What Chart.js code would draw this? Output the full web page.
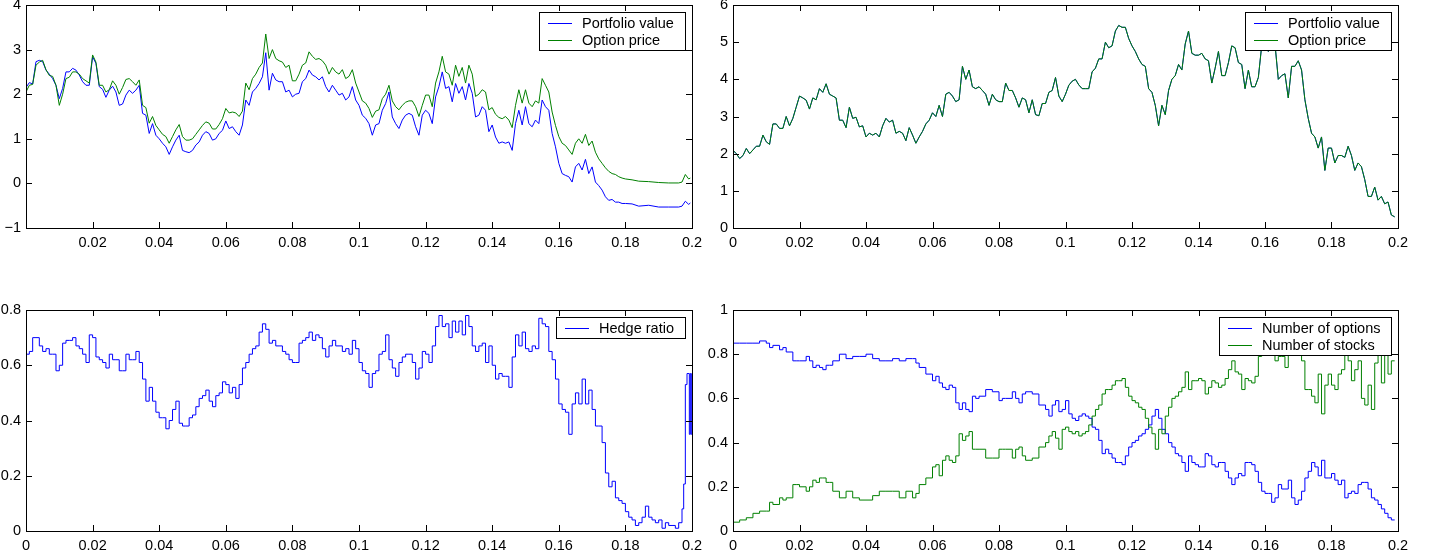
<!DOCTYPE html>
<html>
<head>
<meta charset="utf-8">
<script src="https://cdn.jsdelivr.net/npm/chart.js@4"></script>
<style>
body { margin: 0; background: #fff; width: 1441px; height: 559px; overflow: hidden; position: relative; }
canvas { position: absolute; }
</style>
</head>
<body>
<canvas id="tl" width="720" height="262" style="left:0;top:-12px"></canvas>
<canvas id="tr" width="741" height="262" style="left:700px;top:-12px"></canvas>
<canvas id="bl" width="720" height="281" style="left:0;top:278px"></canvas>
<canvas id="br" width="741" height="281" style="left:700px;top:278px"></canvas>
<script>
// all times are in 1/1000 of the x unit

// top left: portfolio value vs option price
var tlTime = [
  0, 1, 2, 3, 4, 5, 6, 7, 8, 9, 10, 11, 12, 13, 14, 15, 16, 17, 18, 19,
  20, 21, 22, 23, 24, 25, 26, 27, 28, 29, 30, 31, 32, 33, 34, 35, 36, 37, 38, 39,
  40, 41, 42, 43, 44, 45, 46, 47, 48, 49, 50, 51, 52, 53, 54, 55, 56, 57, 58, 59,
  60, 61, 62, 63, 64, 65, 66, 67, 68, 69, 70, 71, 72, 73, 74, 75, 76, 77, 78, 79,
  80, 81, 82, 83, 84, 85, 86, 87, 88, 89, 90, 91, 92, 93, 94, 95, 96, 97, 98, 99,
  100, 101, 102, 103, 104, 105, 106, 107, 108, 109, 110, 111, 112, 113, 114, 115, 116, 117, 118, 119,
  120, 121, 122, 123, 124, 125, 126, 127, 128, 129, 130, 131, 132, 133, 134, 135, 136, 137, 138, 139,
  140, 141, 142, 143, 144, 145, 146, 147, 148, 149, 150, 151, 152, 153, 154, 155, 156, 157, 158, 159,
  160, 161, 162, 163, 164, 165, 166, 167, 168, 169, 170, 171, 172, 173, 174, 175, 176, 177, 178, 179,
  180, 182, 184, 187, 190, 193, 196, 197, 198, 199, 199.5
];
var tlPortfolio = [
  2.15, 2.26, 2.23, 2.73, 2.76, 2.73, 2.54, 2.45, 2.35, 2.2, 1.9, 2.13, 2.5, 2.5, 2.58, 2.54, 2.43, 2.28, 2.2, 2.2,
  2.84, 2.69, 2.17, 2.11, 1.93, 2.09, 2.18, 2.05, 1.75, 1.78, 1.98, 2.09, 2.02, 2.09, 2.2, 1.57, 1.53, 1.12, 1.34, 1.08,
  1.0, 0.9, 0.82, 0.65, 0.82, 0.97, 1.08, 0.74, 0.71, 0.69, 0.74, 0.86, 0.93, 1.08, 1.16, 1.12, 0.97, 1.0, 1.12, 1.19,
  1.4, 1.23, 1.27, 1.16, 1.08, 1.31, 1.87, 1.75, 2.05, 2.13, 2.24, 2.39, 2.93, 2.09, 2.47, 2.32, 2.28, 2.28, 2.05, 2.09,
  1.94, 2.0, 2.02, 2.28, 2.35, 2.54, 2.43, 2.39, 2.32, 2.39, 2.17, 2.05, 2.2, 2.09, 1.98, 2.02, 1.87, 1.94, 2.17, 1.87,
  1.75, 1.53, 1.46, 1.34, 1.08, 1.31, 1.34, 1.64, 1.79, 2.05, 1.49, 1.34, 1.23, 1.42, 1.53, 1.57, 1.53, 1.27, 1.08, 1.53,
  1.64, 1.57, 1.34, 1.94, 2.17, 2.5, 2.13, 2.17, 1.83, 2.24, 2.02, 2.17, 1.87, 2.24, 2.02, 1.49, 1.53, 1.72, 1.64, 1.16,
  1.31, 1.04, 0.9, 0.93, 0.9, 0.93, 0.74, 1.34, 1.64, 1.31, 1.72, 1.34, 1.27, 1.42, 1.34, 1.87, 1.72, 1.64, 1.12, 0.82,
  0.45, 0.22, 0.18, 0.15, 0.03, 0.37, 0.45, 0.3, 0.54, 0.22, 0.37, 0.03, -0.05, -0.15, -0.3, -0.38, -0.36, -0.42, -0.42, -0.45,
  -0.45, -0.46, -0.51, -0.49, -0.53, -0.53, -0.53, -0.51, -0.4, -0.47, -0.44
];
var tlOption = [
  2.05, 2.2, 2.22, 2.65, 2.72, 2.76, 2.55, 2.42, 2.4, 2.2, 1.75, 2.0, 2.35, 2.38, 2.5, 2.5, 2.45, 2.35, 2.3, 2.25,
  2.88, 2.72, 2.2, 2.2, 2.05, 2.1, 2.3, 2.2, 2.0, 2.15, 2.33, 2.35, 2.28, 2.2, 2.32, 1.75, 1.7, 1.35, 1.5, 1.3,
  1.2, 1.1, 1.05, 0.9, 1.05, 1.2, 1.32, 1.05, 0.97, 0.97, 1.0, 1.1, 1.2, 1.3, 1.38, 1.35, 1.22, 1.22, 1.32, 1.45,
  1.68, 1.58, 1.6, 1.58, 1.5, 1.62, 2.25, 2.1, 2.35, 2.45, 2.6, 2.7, 3.35, 2.8, 3.0, 2.8, 2.75, 2.72, 2.6, 2.65,
  2.3, 2.3, 2.45, 2.65, 2.7, 2.95, 2.85, 2.78, 2.8, 2.75, 2.65, 2.45, 2.6, 2.5, 2.45, 2.55, 2.35, 2.4, 2.55, 2.25,
  2.05, 1.85, 1.8, 1.68, 1.48, 1.62, 1.65, 1.9, 2.0, 2.2, 1.85, 1.72, 1.65, 1.75, 1.82, 1.85, 1.85, 1.72, 1.5, 1.75,
  1.98, 1.98, 1.72, 2.25, 2.5, 2.85, 2.5, 2.45, 2.2, 2.65, 2.4, 2.6, 2.25, 2.65, 2.45, 1.95, 2.0, 2.1, 2.05, 1.65,
  1.7, 1.55, 1.48, 1.45, 1.5, 1.42, 1.25, 1.75, 2.1, 1.8, 2.1, 1.8, 1.72, 1.85, 1.8, 2.35, 2.2, 2.05, 1.6, 1.3,
  1.05, 0.9, 0.85, 0.75, 0.65, 0.9, 1.0, 0.9, 1.1, 0.85, 0.95, 0.7, 0.55, 0.45, 0.35, 0.27, 0.22, 0.2, 0.15, 0.12,
  0.1, 0.08, 0.05, 0.04, 0.02, 0.01, 0.01, 0.03, 0.2, 0.1, 0.12
];

// top right: portfolio value vs option price (the two curves coincide)
var trTime = [
  0, 1, 2, 3, 4, 5, 6, 7, 8, 9, 10, 11, 12, 13, 14, 15, 16, 17, 18, 19,
  20, 21, 22, 23, 24, 25, 26, 27, 28, 29, 30, 31, 32, 33, 34, 35, 36, 37, 38, 39,
  40, 41, 42, 43, 44, 45, 46, 47, 48, 49, 50, 51, 52, 53, 54, 55, 56, 57, 58, 59,
  60, 61, 62, 63, 64, 65, 66, 67, 68, 69, 70, 71, 72, 73, 74, 75, 76, 77, 78, 79,
  80, 81, 82, 83, 84, 85, 86, 87, 88, 89, 90, 91, 92, 93, 94, 95, 96, 97, 98, 99,
  100, 101, 102, 103, 104, 105, 106, 107, 108, 109, 110, 111, 112, 113, 114, 115, 116, 117, 118, 119,
  120, 121, 122, 123, 124, 125, 126, 127, 128, 129, 130, 131, 132, 133, 134, 135, 136, 137, 138, 139,
  140, 141, 142, 143, 144, 145, 146, 147, 148, 149, 150, 151, 152, 153, 154, 155, 156, 157, 158, 159,
  160, 161, 162, 163, 164, 165, 166, 167, 168, 169, 170, 171, 172, 173, 174, 175, 176, 177, 178, 179,
  180, 181, 182, 183, 184, 185, 186, 187, 188, 189, 190, 191, 192, 193, 194, 195, 196, 197, 198, 199
];
var trPortfolio = [
  2.09, 2.0, 1.87, 1.95, 2.14, 2.0, 2.1, 2.2, 2.2, 2.5, 2.32, 2.25, 2.8, 2.8, 2.68, 2.68, 3.0, 2.75, 2.95, 3.25,
  3.55, 3.5, 3.44, 3.2, 3.5, 3.45, 3.75, 3.65, 3.88, 3.6, 3.55, 3.5, 2.9, 2.9, 2.7, 3.25, 2.95, 2.98, 2.72, 2.75,
  2.45, 2.55, 2.5, 2.55, 2.45, 2.75, 2.95, 2.85, 2.9, 2.55, 2.6, 2.55, 2.35, 2.7, 2.5, 2.28, 2.45, 2.6, 2.8, 2.9,
  3.1, 3.0, 3.3, 3.0, 3.6, 3.65, 3.55, 3.4, 3.45, 4.35, 4.0, 4.25, 3.8, 3.75, 3.8, 3.7, 3.6, 3.3, 3.6, 3.45,
  3.4, 3.4, 3.9, 3.7, 3.7, 3.5, 3.25, 3.5, 3.45, 3.1, 3.45, 3.05, 3.02, 3.35, 3.35, 3.65, 3.7, 4.05, 3.55, 3.4,
  3.6, 3.84, 3.95, 4.0, 3.85, 3.75, 3.75, 3.75, 4.2, 4.3, 4.55, 4.55, 5.0, 4.85, 4.9, 5.3, 5.45, 5.4, 5.4, 5.1,
  4.9, 4.75, 4.55, 4.4, 4.35, 3.75, 3.65, 3.3, 2.75, 3.3, 3.05, 3.7, 4.0, 4.1, 4.4, 4.25, 4.95, 5.3, 4.7, 4.65,
  4.65, 4.7, 4.55, 4.5, 3.9, 4.3, 4.75, 4.1, 4.1, 4.45, 4.9, 4.85, 4.45, 4.4, 3.75, 4.25, 3.8, 3.8, 4.05, 4.9,
  5.0, 4.75, 4.9, 4.95, 4.0, 4.1, 4.15, 3.5, 4.35, 4.35, 4.5, 4.25, 3.45, 2.95, 2.55, 2.45, 2.15, 2.45, 1.55, 2.15,
  2.15, 1.75, 1.95, 1.95, 1.9, 2.2, 1.95, 1.55, 1.75, 1.65, 1.3, 0.85, 0.85, 1.1, 0.75, 0.85, 0.65, 0.7, 0.35, 0.3
];
var trOption = [
  2.09, 2.0, 1.87, 1.95, 2.14, 2.0, 2.1, 2.2, 2.2, 2.5, 2.32, 2.25, 2.8, 2.8, 2.68, 2.68, 3.0, 2.75, 2.95, 3.25,
  3.55, 3.5, 3.44, 3.2, 3.5, 3.45, 3.75, 3.65, 3.88, 3.6, 3.55, 3.5, 2.9, 2.9, 2.7, 3.25, 2.95, 2.98, 2.72, 2.75,
  2.45, 2.55, 2.5, 2.55, 2.45, 2.75, 2.95, 2.85, 2.9, 2.55, 2.6, 2.55, 2.35, 2.7, 2.5, 2.28, 2.45, 2.6, 2.8, 2.9,
  3.1, 3.0, 3.3, 3.0, 3.6, 3.65, 3.55, 3.4, 3.45, 4.35, 4.0, 4.25, 3.8, 3.75, 3.8, 3.7, 3.6, 3.3, 3.6, 3.45,
  3.4, 3.4, 3.9, 3.7, 3.7, 3.5, 3.25, 3.5, 3.45, 3.1, 3.45, 3.05, 3.02, 3.35, 3.35, 3.65, 3.7, 4.05, 3.55, 3.4,
  3.6, 3.84, 3.95, 4.0, 3.85, 3.75, 3.75, 3.75, 4.2, 4.3, 4.55, 4.55, 5.0, 4.85, 4.9, 5.3, 5.45, 5.4, 5.4, 5.1,
  4.9, 4.75, 4.55, 4.4, 4.35, 3.75, 3.65, 3.3, 2.75, 3.3, 3.05, 3.7, 4.0, 4.1, 4.4, 4.25, 4.95, 5.3, 4.7, 4.65,
  4.65, 4.7, 4.55, 4.5, 3.9, 4.3, 4.75, 4.1, 4.1, 4.45, 4.9, 4.85, 4.45, 4.4, 3.75, 4.25, 3.8, 3.8, 4.05, 4.9,
  5.0, 4.75, 4.9, 4.95, 4.0, 4.1, 4.15, 3.5, 4.35, 4.35, 4.5, 4.25, 3.45, 2.95, 2.55, 2.45, 2.15, 2.45, 1.55, 2.15,
  2.15, 1.75, 1.95, 1.95, 1.9, 2.2, 1.95, 1.55, 1.75, 1.65, 1.3, 0.85, 0.85, 1.1, 0.75, 0.85, 0.65, 0.7, 0.35, 0.3
];

// bottom left: hedge ratio
var blTime = [
  0, 1, 2, 3, 4, 5, 6, 7, 8, 9, 10, 11, 12, 13, 14, 15, 16, 17, 18, 19,
  20, 21, 22, 23, 24, 25, 26, 27, 28, 29, 30, 31, 32, 33, 34, 35, 36, 37, 38, 39,
  40, 41, 42, 43, 44, 45, 46, 47, 48, 49, 50, 51, 52, 53, 54, 55, 56, 57, 58, 59,
  60, 61, 62, 63, 64, 65, 66, 67, 68, 69, 70, 71, 72, 73, 74, 75, 76, 77, 78, 79,
  80, 81, 82, 83, 84, 85, 86, 87, 88, 89, 90, 91, 92, 93, 94, 95, 96, 97, 98, 99,
  100, 101, 102, 103, 104, 105, 106, 107, 108, 109, 110, 111, 112, 113, 114, 115, 116, 117, 118, 119,
  120, 121, 122, 123, 124, 125, 126, 127, 128, 129, 130, 131, 132, 133, 134, 135, 136, 137, 138, 139,
  140, 141, 142, 143, 144, 145, 146, 147, 148, 149, 150, 151, 152, 153, 154, 155, 156, 157, 158, 159,
  160, 161, 162, 163, 164, 165, 166, 167, 168, 169, 170, 171, 172, 173, 174, 175, 176, 177, 178, 179,
  180, 181, 182, 183, 184, 185, 186, 187, 188, 189, 190, 191, 192, 193, 194, 195, 196, 197,
  197.5, 198, 198.5, 199.2, 199.5, 199.8, 200
];
var blHedge = [
  0.62, 0.64, 0.65, 0.70, 0.70, 0.67, 0.65, 0.66, 0.64, 0.64, 0.58, 0.60, 0.68, 0.69, 0.69, 0.70, 0.67, 0.66, 0.64, 0.61,
  0.71, 0.70, 0.63, 0.62, 0.61, 0.59, 0.64, 0.62, 0.62, 0.58, 0.58, 0.64, 0.62, 0.62, 0.65, 0.61, 0.55, 0.47, 0.52, 0.47,
  0.43, 0.41, 0.41, 0.37, 0.40, 0.44, 0.47, 0.39, 0.38, 0.38, 0.41, 0.42, 0.45, 0.48, 0.49, 0.51, 0.47, 0.45, 0.49, 0.50,
  0.54, 0.53, 0.50, 0.52, 0.48, 0.53, 0.59, 0.61, 0.64, 0.66, 0.67, 0.72, 0.75, 0.73, 0.68, 0.69, 0.67, 0.67, 0.65, 0.64,
  0.62, 0.61, 0.61, 0.68, 0.69, 0.70, 0.72, 0.69, 0.71, 0.70, 0.66, 0.63, 0.67, 0.69, 0.67, 0.67, 0.65, 0.66, 0.64, 0.69,
  0.66, 0.61, 0.58, 0.57, 0.52, 0.57, 0.58, 0.64, 0.65, 0.71, 0.62, 0.59, 0.56, 0.61, 0.63, 0.64, 0.64, 0.61, 0.55, 0.59,
  0.65, 0.64, 0.61, 0.67, 0.74, 0.78, 0.74, 0.75, 0.70, 0.76, 0.72, 0.76, 0.71, 0.78, 0.74, 0.67, 0.65, 0.67, 0.68, 0.61,
  0.67, 0.60, 0.55, 0.57, 0.56, 0.56, 0.52, 0.63, 0.71, 0.67, 0.72, 0.66, 0.65, 0.67, 0.66, 0.77, 0.75, 0.74, 0.65, 0.62,
  0.55, 0.46, 0.44, 0.43, 0.35, 0.46, 0.50, 0.46, 0.55, 0.46, 0.51, 0.44, 0.38, 0.38, 0.32, 0.21, 0.16, 0.18, 0.12, 0.11,
  0.10, 0.07, 0.05, 0.04, 0.02, 0.03, 0.05, 0.09, 0.05, 0.04, 0.03, 0.04, 0.01, 0.03, 0.02, 0.02, 0.01, 0.03,
  0.08, 0.17, 0.53, 0.57, 0.35, 0.57, 0.35
];

// bottom right: number of options / number of stocks
var brTime = [
  0, 2, 4, 6, 8, 10, 11, 12, 14, 15, 16, 18, 19, 20, 22, 23, 24, 25, 26, 27,
  28, 29, 30, 32, 34, 36, 38, 40, 42, 44, 46, 48, 50, 52, 54, 55, 56, 58, 60, 61,
  62, 63, 64, 65, 66, 67, 68, 69, 70, 71, 72, 73, 74, 76, 78, 80, 81, 82, 84, 85,
  86, 87, 88, 90, 92, 94, 95, 96, 97, 98, 99,
  100, 101, 102, 103, 104, 105, 106, 107, 108, 109, 110, 111, 112, 113, 114, 115, 116, 117, 118, 119,
  120, 121, 122, 123, 124, 125, 126, 127, 128, 129, 130, 131, 132, 133, 134, 135, 136, 137, 138, 139,
  140, 141, 142, 143, 144, 145, 146, 147, 148, 149, 150, 151, 152, 153, 154, 155, 156, 157, 158, 159,
  160, 161, 162, 163, 164, 165, 166, 167, 168, 169, 170, 171, 172, 173, 174, 175, 176, 177, 178, 179,
  180, 181, 182, 183, 184, 185, 186, 187, 188, 189, 190, 191, 192, 193, 194, 195, 196, 197, 198, 199
];
var brOptions = [
  0.86, 0.85, 0.85, 0.85, 0.85, 0.86, 0.85, 0.83, 0.84, 0.82, 0.83, 0.81, 0.77, 0.77, 0.77, 0.79, 0.77, 0.74, 0.75, 0.74,
  0.73, 0.75, 0.75, 0.77, 0.80, 0.78, 0.79, 0.79, 0.80, 0.78, 0.77, 0.77, 0.78, 0.77, 0.78, 0.78, 0.76, 0.74, 0.71, 0.68,
  0.70, 0.67, 0.65, 0.64, 0.66, 0.65, 0.58, 0.55, 0.58, 0.55, 0.54, 0.61, 0.60, 0.61, 0.64, 0.63, 0.59, 0.60, 0.60, 0.63,
  0.60, 0.58, 0.62, 0.63, 0.62, 0.57, 0.55, 0.52, 0.57, 0.59, 0.54,
  0.55, 0.59, 0.53, 0.51, 0.50, 0.52, 0.53, 0.52, 0.51, 0.47, 0.46, 0.41, 0.35, 0.37, 0.35, 0.33, 0.31, 0.31, 0.30, 0.34,
  0.38, 0.40, 0.41, 0.43, 0.44, 0.46, 0.48, 0.52, 0.55, 0.51, 0.46, 0.44, 0.40, 0.38, 0.35, 0.34, 0.31, 0.27, 0.34, 0.31,
  0.30, 0.29, 0.29, 0.35, 0.34, 0.30, 0.29, 0.31, 0.31, 0.27, 0.24, 0.21, 0.24, 0.26, 0.25, 0.31, 0.31, 0.30, 0.27, 0.22,
  0.18, 0.17, 0.17, 0.13, 0.15, 0.21, 0.19, 0.19, 0.23, 0.15, 0.12, 0.14, 0.18, 0.24, 0.27, 0.31, 0.29, 0.25, 0.32, 0.24,
  0.24, 0.26, 0.23, 0.21, 0.23, 0.15, 0.17, 0.18, 0.17, 0.21, 0.22, 0.22, 0.19, 0.15, 0.14, 0.12, 0.10, 0.08, 0.06, 0.05
];
var brStocks = [
  0.05, 0.04, 0.05, 0.06, 0.08, 0.09, 0.09, 0.13, 0.12, 0.15, 0.14, 0.15, 0.21, 0.21, 0.20, 0.18, 0.20, 0.23, 0.22, 0.24,
  0.24, 0.22, 0.22, 0.18, 0.15, 0.18, 0.15, 0.14, 0.14, 0.16, 0.18, 0.18, 0.18, 0.15, 0.18, 0.15, 0.17, 0.21, 0.24, 0.29,
  0.30, 0.25, 0.32, 0.34, 0.32, 0.31, 0.34, 0.44, 0.41, 0.43, 0.45, 0.37, 0.37, 0.37, 0.33, 0.33, 0.37, 0.37, 0.37, 0.33,
  0.37, 0.38, 0.34, 0.32, 0.33, 0.38, 0.40, 0.43, 0.45, 0.42, 0.37,
  0.46, 0.47, 0.45, 0.44, 0.45, 0.43, 0.44, 0.45, 0.48, 0.52, 0.55, 0.57, 0.62, 0.64, 0.64, 0.66, 0.68, 0.68, 0.69, 0.65,
  0.61, 0.59, 0.58, 0.56, 0.55, 0.51, 0.47, 0.44, 0.37, 0.46, 0.44, 0.52, 0.56, 0.60, 0.61, 0.63, 0.65, 0.72, 0.64, 0.68,
  0.68, 0.69, 0.68, 0.62, 0.65, 0.68, 0.67, 0.65, 0.66, 0.69, 0.73, 0.77, 0.72, 0.71, 0.64, 0.69, 0.68, 0.67, 0.70, 0.79,
  0.82, 0.81, 0.82, 0.83, 0.77, 0.79, 0.79, 0.74, 0.80, 0.82, 0.83, 0.80, 0.77, 0.64, 0.64, 0.61, 0.58, 0.71, 0.53, 0.66,
  0.71, 0.66, 0.64, 0.71, 0.73, 0.80, 0.77, 0.68, 0.73, 0.77, 0.60, 0.57, 0.66, 0.55, 0.76, 0.80, 0.67, 0.88, 0.71, 0.77
];

var BLUE = "#0000ff";
var GREEN = "#008000";
var FONT = '"Liberation Sans", Arial, sans-serif';

function points(times, values) {
  return times.map((t, i) => ({ x: t / 1000, y: values[i] }));
}

function fmt(v) {
  var s = String(+v.toFixed(2));
  return s.replace("-", "\u2212");
}

// matlab-like box: frame, inward ticks on all sides, legend top right
var matlabBox = {
  id: "matlabBox",
  afterDatasetsDraw(chart) {
    var ctx = chart.ctx, a = chart.chartArea;
    var sets = chart.data.datasets;
    ctx.save();
    ctx.font = "14.5px " + FONT;
    var w = 0;
    sets.forEach(d => { w = Math.max(w, ctx.measureText(d.label).width); });
    var boxW = Math.round(43 + w + 11);
    var boxH = sets.length * 17 + 4;
    var left = Math.round(a.right - 7 - boxW), top = Math.round(a.top + 7);
    ctx.fillStyle = "#fff";
    ctx.fillRect(left, top, boxW, boxH);
    ctx.strokeStyle = "#000";
    ctx.lineWidth = 1;
    ctx.strokeRect(left + 0.5, top + 0.5, boxW, boxH);
    ctx.textBaseline = "middle";
    sets.forEach((d, i) => {
      var cy = Math.round(top + 11 + i * 17) + 0.5;
      ctx.strokeStyle = d.borderColor;
      ctx.beginPath();
      ctx.moveTo(left + 9, cy);
      ctx.lineTo(left + 33, cy);
      ctx.stroke();
      ctx.fillStyle = "#000";
      ctx.fillText(d.label, left + 43, cy);
    });
    ctx.restore();
  },
  afterDraw(chart) {
    var ctx = chart.ctx, a = chart.chartArea;
    var xs = chart.scales.x, ys = chart.scales.y;
    var L = 6;
    ctx.save();
    ctx.strokeStyle = "#000";
    ctx.lineWidth = 1;
    ctx.beginPath();
    xs.ticks.forEach(t => {
      var px = Math.round(xs.getPixelForValue(t.value)) + 0.5;
      ctx.moveTo(px, a.bottom); ctx.lineTo(px, a.bottom - L);
      ctx.moveTo(px, a.top); ctx.lineTo(px, a.top + L);
    });
    ys.ticks.forEach(t => {
      var py = Math.round(ys.getPixelForValue(t.value)) + 0.5;
      ctx.moveTo(a.left, py); ctx.lineTo(a.left + L, py);
      ctx.moveTo(a.right, py); ctx.lineTo(a.right - L, py);
    });
    ctx.stroke();
    ctx.strokeRect(Math.round(a.left) + 0.5, Math.round(a.top) + 0.5,
      Math.round(a.right - a.left), Math.round(a.bottom - a.top));
    ctx.restore();
  }
};

function makeChart(id, datasets, o) {
  return new Chart(document.getElementById(id), {
    type: "line",
    data: { datasets: datasets },
    options: {
      responsive: false,
      animation: false,
      devicePixelRatio: 1,
      events: [],
      layout: { padding: { top: o.padTop, right: o.padRight, left: 0, bottom: 0 } },
      elements: { point: { radius: 0 }, line: { tension: 0, borderWidth: 1 } },
      plugins: { legend: { display: false }, tooltip: { enabled: false } },
      scales: {
        x: {
          type: "linear", min: 0, max: 0.2,
          grid: { display: false, drawTicks: false },
          border: { display: false },
          afterFit: s => { s.height = o.xHeight; },
          ticks: {
            stepSize: 0.02, autoSkip: false, maxRotation: 0, padding: 6,
            color: "#000", font: { family: FONT, size: 14.5 },
            callback: v => (o.hideZero && v === 0) ? "" : fmt(v)
          }
        },
        y: {
          min: o.yMin, max: o.yMax,
          grid: { display: false, drawTicks: false },
          border: { display: false },
          afterFit: s => { s.width = o.yWidth; },
          ticks: {
            stepSize: o.yStep, autoSkip: false, padding: 5,
            color: "#000", font: { family: FONT, size: 14.5 },
            callback: v => fmt(v)
          }
        }
      }
    },
    plugins: [matlabBox]
  });
}

function series(label, color, data, order, stepped) {
  return { label: label, data: data, borderColor: color, backgroundColor: color,
    borderWidth: 1, fill: false, order: order, stepped: stepped ? "after" : false };
}

// canvases are larger than the panels so label overhang never moves the plot box
makeChart("tl", [
  series("Portfolio value", BLUE, points(tlTime, tlPortfolio), 1),
  series("Option price", GREEN, points(tlTime, tlOption), 0)
], { yMin: -1, yMax: 4, yStep: 1, yWidth: 26, xHeight: 22, padTop: 17, padRight: 28, hideZero: true });

makeChart("tr", [
  series("Portfolio value", BLUE, points(trTime, trPortfolio), 1),
  series("Option price", GREEN, points(trTime, trOption), 0)
], { yMin: 0, yMax: 6, yStep: 1, yWidth: 33, xHeight: 22, padTop: 17, padRight: 43 });

makeChart("bl", [
  series("Hedge ratio", BLUE, points(blTime, blHedge), 0, true)
], { yMin: 0, yMax: 0.8, yStep: 0.2, yWidth: 26, xHeight: 28, padTop: 32, padRight: 28 });

makeChart("br", [
  series("Number of options", BLUE, points(brTime, brOptions), 1, true),
  series("Number of stocks", GREEN, points(brTime, brStocks), 0, true)
], { yMin: 0, yMax: 1, yStep: 0.2, yWidth: 33, xHeight: 28, padTop: 32, padRight: 43 });
</script>
</body>
</html>
